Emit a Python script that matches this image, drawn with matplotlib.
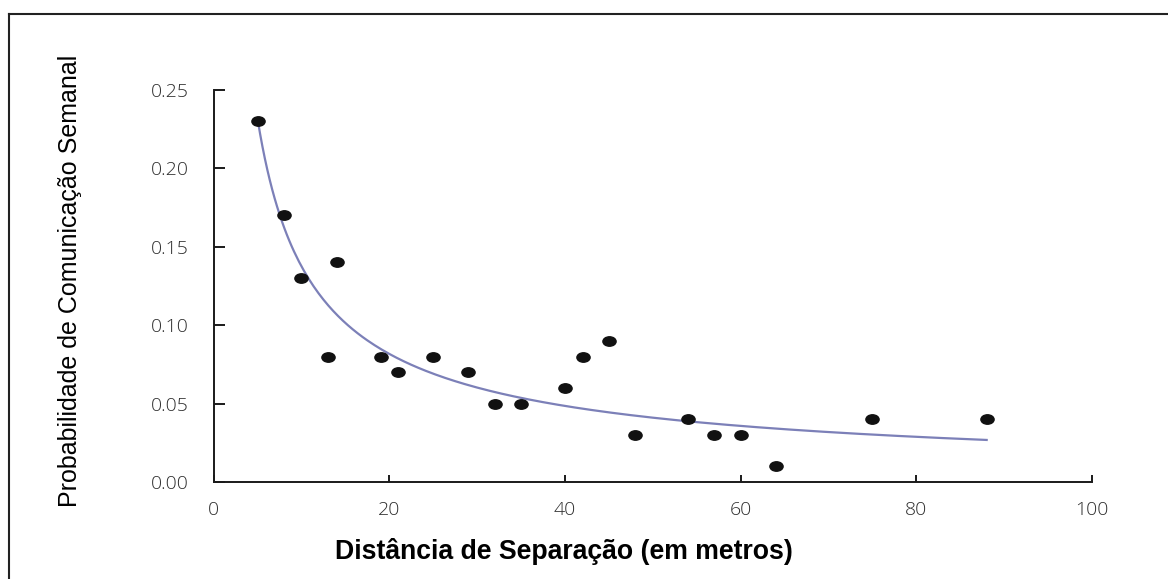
import numpy as np
import matplotlib.pyplot as plt
from matplotlib.path import Path
from matplotlib.transforms import Affine2D
from matplotlib.lines import Line2D

# data
dist = [5, 8, 10, 14, 13, 19, 21, 25, 29, 32, 35, 40, 42, 45, 48, 54, 57, 60, 64, 75, 88]
prob = [0.23, 0.17, 0.13, 0.14, 0.08, 0.08, 0.07, 0.08, 0.07, 0.05, 0.05, 0.06, 0.08, 0.09,
        0.03, 0.04, 0.03, 0.03, 0.01, 0.04, 0.04]
xticks = [0, 20, 40, 60, 80, 100]
yticks = [0.00, 0.05, 0.10, 0.15, 0.20, 0.25]

# power trendline (log-log least squares, like a spreadsheet trendline)
b, loga = np.polyfit(np.log(dist), np.log(prob), 1)
xs = np.linspace(min(dist), max(dist), 300)
ys = np.exp(loga) * xs ** b

fig = plt.figure(figsize=(11.68, 5.79), dpi=100)
ax = fig.add_axes([0.1829, 0.1675, 0.7521, 0.6771])

ellipse = Path.unit_circle().transformed(Affine2D().scale(1.4, 1.0))
ax.plot(xs, ys, color='#7c80b8', linewidth=1.6, zorder=2)
ax.plot(dist, prob, linestyle='none', marker=ellipse, markersize=9.5,
        color='#111111', zorder=3)

ax.set_xlim(0, 100)
ax.set_ylim(0, 0.25)
ax.set_xticks(xticks)
ax.set_yticks(yticks)
ax.set_xticklabels([str(t) for t in xticks])
ax.set_yticklabels([f"{t:.2f}" for t in yticks])
for s in ['top', 'right']:
    ax.spines[s].set_visible(False)
for s in ['left', 'bottom']:
    ax.spines[s].set_linewidth(1.4)
    ax.spines[s].set_color('#1a1a1a')
ax.tick_params(direction='in', width=1.4, color='#1a1a1a',
               labelsize=14, labelcolor='#2e2e2e')
ax.tick_params(axis='y', length=8, pad=18)
ax.tick_params(axis='x', length=5, pad=14)
for lab in ax.get_xticklabels() + ax.get_yticklabels():
    lab.set_family('Open Sans')
    lab.set_fontweight('light')

ax.set_xlabel('Distância de Separação (em metros)', fontsize=19.2, fontweight='bold',
              family='Liberation Sans')
ax.set_ylabel('Probabilidade de Comunicação Semanal', fontsize=18,
              family='Liberation Sans')
ax.xaxis.set_label_coords(0.399, -0.143)
ax.yaxis.set_label_coords(-0.150, 0.513)

# outer frame (top and left edges only visible)
fig.add_artist(Line2D([9 / 1168, 1], [1 - 14 / 579, 1 - 14 / 579], color='#222222', linewidth=1.5))
fig.add_artist(Line2D([9 / 1168, 9 / 1168], [0, 1 - 14 / 579], color='#222222', linewidth=1.5))

fig.savefig('out.png', dpi=100)
